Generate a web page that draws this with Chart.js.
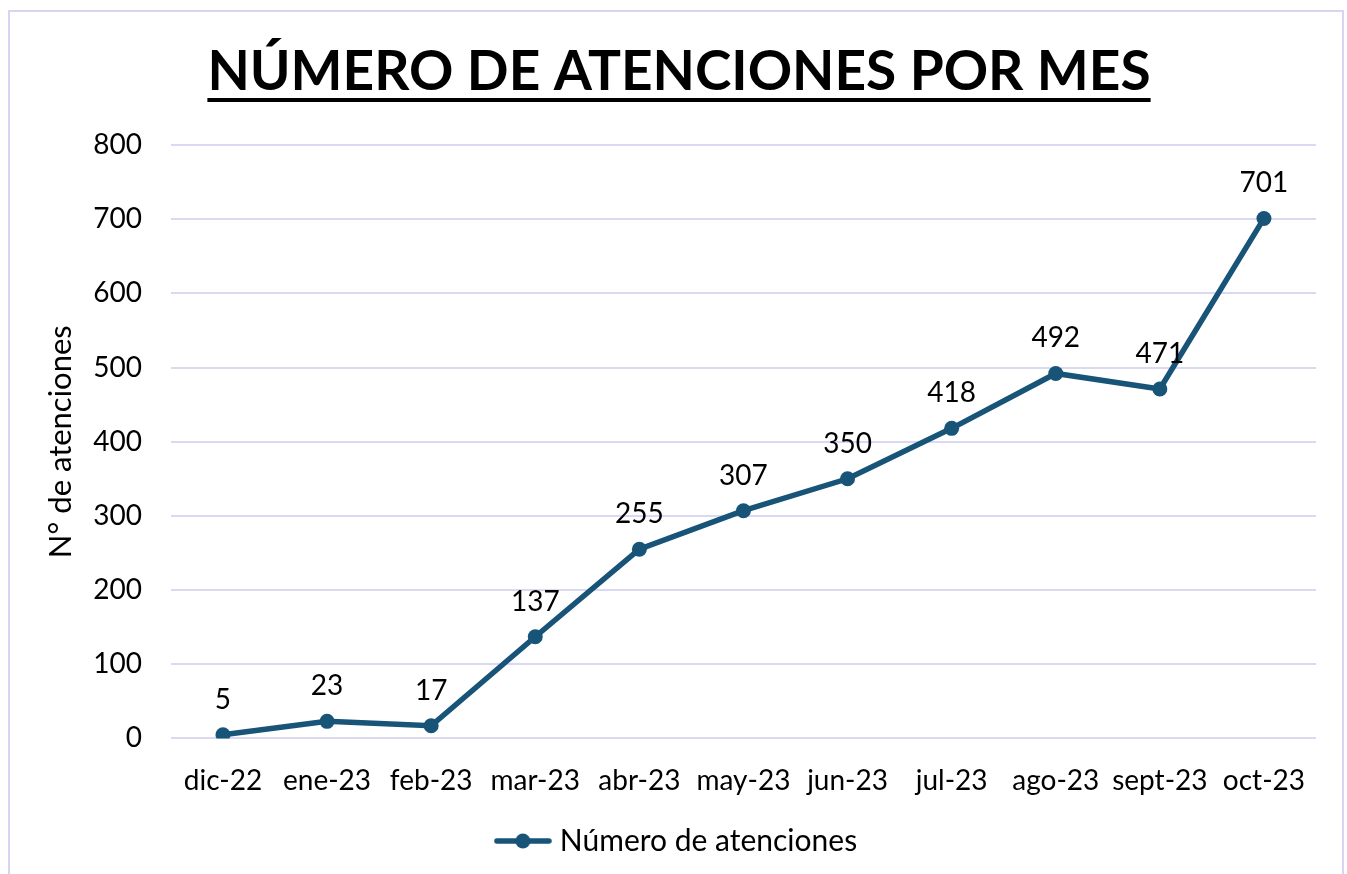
<!DOCTYPE html>
<html>
<head>
<meta charset="utf-8">
<script src="https://cdn.jsdelivr.net/npm/chart.js@4.4.0/dist/chart.umd.min.js"></script>
<style>
  html, body { margin: 0; padding: 0; background: #fff; }
  #frame { position: absolute; left: 8px; top: 10px; width: 1336px; height: 880px; border: 2px solid #d6d6f2; box-sizing: border-box; }
  #wrap { position: absolute; left: 0; top: 0; width: 1347px; height: 874px; }
</style>
</head>
<body>
<div id="frame"></div>
<div id="wrap"><canvas id="line-chart"></canvas></div>
<script>
// chart data
const months = ['dic-22', 'ene-23', 'feb-23', 'mar-23', 'abr-23', 'may-23', 'jun-23', 'jul-23', 'ago-23', 'sept-23', 'oct-23'];
const atenciones = [5, 23, 17, 137, 255, 307, 350, 418, 492, 471, 701];
const yTicks = [0, 100, 200, 300, 400, 500, 600, 700, 800];

const lineColor = '#185477';
const gridColor = '#d9d9f3';
const fontFamily = 'Lato, "Open Sans", sans-serif';

// legend marker: line with a dot in the middle
const marker = document.createElement('canvas');
marker.width = 58; marker.height = 16;
const mctx = marker.getContext('2d');
mctx.strokeStyle = lineColor;
mctx.lineWidth = 5.5;
mctx.lineCap = 'round';
mctx.beginPath(); mctx.moveTo(3, 8); mctx.lineTo(55, 8); mctx.stroke();
mctx.fillStyle = lineColor;
mctx.beginPath(); mctx.arc(29, 8, 7.5, 0, Math.PI * 2); mctx.fill();

// value labels above each point
const valueLabels = {
  id: 'valueLabels',
  afterDatasetsDraw(chart) {
    const ctx = chart.ctx;
    const meta = chart.getDatasetMeta(0);
    ctx.save();
    ctx.font = '28px ' + fontFamily;
    ctx.fillStyle = '#000';
    ctx.textAlign = 'center';
    ctx.textBaseline = 'middle';
    meta.data.forEach((pt, i) => {
      ctx.fillText(atenciones[i], pt.x, pt.y - 35);
    });
    ctx.restore();
  }
};

// underline under the title
const titleUnderline = {
  id: 'titleUnderline',
  afterDraw(chart) {
    const tb = chart.titleBlock;
    const ctx = chart.ctx;
    const f = chart.options.plugins.title.font;
    ctx.save();
    ctx.font = f.weight + ' ' + f.size + 'px ' + f.family;
    const w = ctx.measureText(chart.options.plugins.title.text).width;
    const cx = (tb.left + tb.right) / 2;
    ctx.fillStyle = '#000';
    ctx.fillRect(cx - w / 2, 98, w, 4);
    ctx.restore();
  }
};

const chartCanvas = document.querySelector('#line-chart');
const lineChart = new Chart(chartCanvas, {
  type: 'line',
  data: {
    labels: months,
    datasets: [{
      label: 'Número de atenciones',
      data: atenciones,
      borderColor: lineColor,
      backgroundColor: lineColor,
      borderWidth: 5.5,
      pointRadius: 7.5,
      pointHoverRadius: 7.5,
      pointBackgroundColor: lineColor,
      pointBorderWidth: 0,
      tension: 0
    }]
  },
  options: {
    responsive: true,
    maintainAspectRatio: false,
    animation: false,
    layout: { padding: { left: 42, right: 31, top: 22, bottom: 8 } },
    plugins: {
      title: {
        display: true,
        text: 'NÚMERO DE ATENCIONES POR MES',
        color: '#000',
        font: { family: fontFamily, size: 55, weight: 'bold' },
        padding: { top: 17, bottom: 40 }
      },
      legend: {
        position: 'bottom',
        labels: {
          color: '#000',
          font: { family: fontFamily, size: 30 },
          usePointStyle: true,
          pointStyleWidth: 44,
          padding: 10,
          generateLabels: (chart) => [{
            text: chart.data.datasets[0].label,
            pointStyle: marker,
            fillStyle: lineColor,
            strokeStyle: lineColor,
            lineWidth: 0,
            datasetIndex: 0,
            fontColor: '#000'
          }]
        }
      },
      tooltip: { enabled: false }
    },
    scales: {
      x: {
        offset: true,
        grid: { display: false },
        border: { display: false },
        ticks: { color: '#000', font: { family: fontFamily, size: 28 }, padding: 18, maxRotation: 0, autoSkip: false }
      },
      y: {
        min: 0,
        max: 800,
        afterBuildTicks: (axis) => { axis.ticks = yTicks.map(v => ({ value: v })); },
        grid: { color: gridColor, lineWidth: 2, drawTicks: false },
        border: { display: false },
        title: {
          display: true,
          text: 'N° de atenciones',
          color: '#000',
          font: { family: fontFamily, size: 31 },
          padding: { top: 0, bottom: -15 }
        },
        ticks: { color: '#000', font: { family: fontFamily, size: 28 }, padding: 29 }
      }
    }
  },
  plugins: [valueLabels, titleUnderline]
});
</script>
</body>
</html>
